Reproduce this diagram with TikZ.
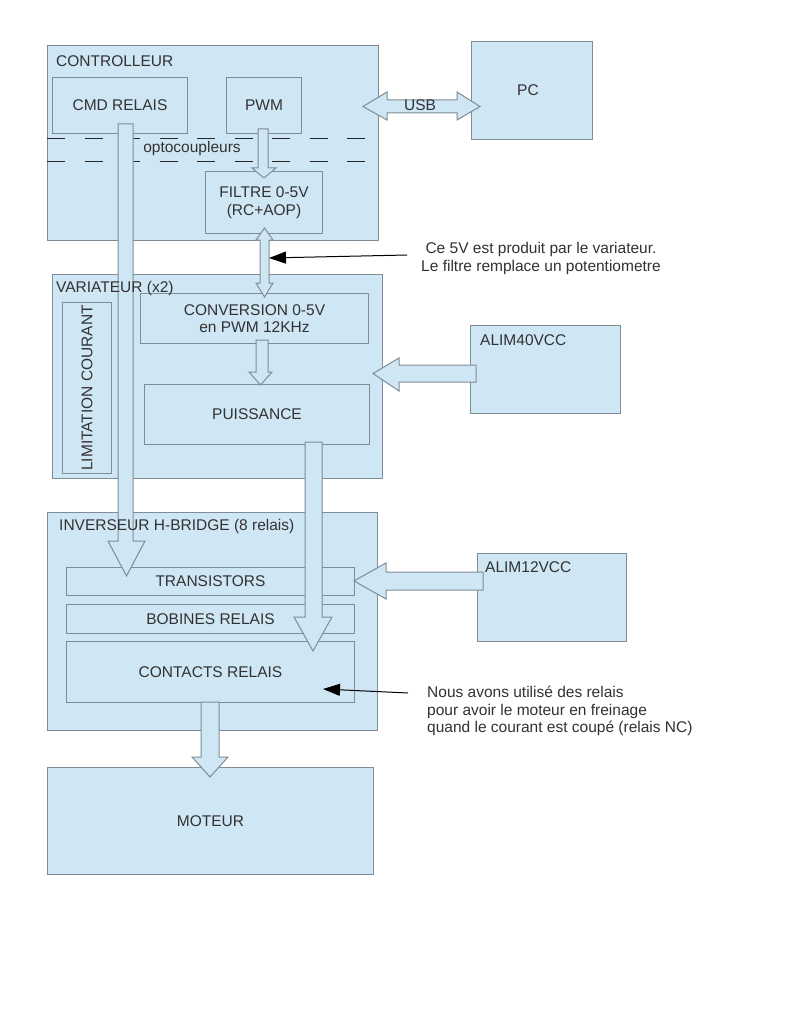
\documentclass[tikz,border=0pt]{standalone}
\usepackage{fontspec}
\setmainfont{Liberation Sans}
\usetikzlibrary{arrows.meta}
\definecolor{boxfill}{RGB}{207,230,244}
\definecolor{boxline}{RGB}{128,140,150}
\definecolor{txt}{RGB}{50,50,50}
\begin{document}
\begin{tikzpicture}[x=1pt,y=-1pt,
  every node/.style={text=txt, font=\fontsize{15.5}{17.5}\selectfont},
  box/.style={draw=boxline, fill=boxfill, line width=1pt, anchor=north west, inner sep=0pt, align=center},
  title/.style={anchor=west, inner sep=0pt},
  barrow/.style={draw=boxline, fill=boxfill, line width=1pt, line join=miter},
  dashline/.style={draw=black!85, line width=1pt, dash pattern=on 18pt off 19.5pt},
  note/.style={draw=black, line width=1pt, -{Triangle[length=17pt,width=12pt]}}
]
\useasboundingbox (0,0) rectangle (791,1024);
\fill[white] (0,0) rectangle (791,1024);

% containers
\node[box, minimum width=331pt, minimum height=195pt] (ctrl) at (47,45) {};
\node[box, minimum width=121pt, minimum height=98pt] (pc) at (471,41) {};
\node[box, minimum width=330pt, minimum height=204pt] (var) at (52,274) {};
\node[box, minimum width=150pt, minimum height=88pt] (alim40) at (470,325) {};
\node[box, minimum width=330pt, minimum height=218pt] (inv) at (47,512) {};
\node[box, minimum width=149pt, minimum height=88pt] (alim12) at (477,553) {};
\node[box, minimum width=326pt, minimum height=107pt] (moteur) at (47,767) {MOTEUR};

% inner boxes
\node[box, minimum width=135pt, minimum height=56pt] (cmd) at (52,77) {CMD RELAIS};
\node[box, minimum width=75pt, minimum height=56pt] (pwm) at (226,77) {PWM};
\node[box, minimum width=117pt, minimum height=62pt] (filtre) at (205,171) {FILTRE 0-5V\\(RC+AOP)};
\node[box, minimum width=49pt, minimum height=171pt] (lim) at (62,302) {};
\node[box, minimum width=228pt, minimum height=50pt] (conv) at (140,293) {CONVERSION 0-5V\\en PWM 12KHz};
\node[box, minimum width=225pt, minimum height=60pt] (puis) at (144,384) {PUISSANCE};
\node[box, minimum width=288pt, minimum height=28pt] (trans) at (66,567) {TRANSISTORS};
\node[box, minimum width=288pt, minimum height=29pt] (bob) at (66,604) {BOBINES RELAIS};
\node[box, minimum width=288pt, minimum height=61pt] (cont) at (66,641) {CONTACTS RELAIS};

% optocoupler dashed lines
\draw[dashline] (47,139) -- (365,139);
\draw[dashline] (47,162) -- (365,162);

% block arrows
% CMD RELAIS -> TRANSISTORS
\draw[barrow] (118,124) -- (118,541) -- (108,541) -- (126.5,576) -- (145,541) -- (133,541) -- (133,124) -- cycle;
% PWM -> FILTRE
\draw[barrow] (258,129) -- (258,168) -- (252,168) -- (264,178) -- (276,168) -- (268,168) -- (268,129) -- cycle;
% FILTRE <-> CONVERSION
\draw[barrow] (264.5,228) -- (273,240) -- (269,240) -- (269,283) -- (273,283) -- (264.5,297) -- (256,283) -- (260,283) -- (260,240) -- (256,240) -- cycle;
% CONVERSION -> PUISSANCE
\draw[barrow] (256,340) -- (256,372) -- (249,372) -- (260.5,385) -- (272,372) -- (268,372) -- (268,340) -- cycle;
% PUISSANCE -> CONTACTS
\draw[barrow] (305,442) -- (305,617) -- (294,617) -- (313,651) -- (332,617) -- (322,617) -- (322,442) -- cycle;
% ALIM40 -> VARIATEUR
\draw[barrow] (476,365) -- (399,365) -- (399,358) -- (373,373.5) -- (399,391) -- (399,382) -- (476,382) -- cycle;
% ALIM12 -> TRANSISTORS
\draw[barrow] (483,572) -- (386,572) -- (386,563) -- (354,581) -- (386,599) -- (386,590) -- (483,590) -- cycle;
% CONTACTS -> MOTEUR
\draw[barrow] (201,702) -- (201,757) -- (192,757) -- (210,777) -- (228,757) -- (219,757) -- (219,702) -- cycle;
% USB
\draw[barrow] (363,106.5) -- (387,92) -- (387,100) -- (457,100) -- (457,92) -- (480,106.5) -- (457,120) -- (457,113) -- (387,113) -- (387,120) -- cycle;

% labels
\node[title] (tctrl) at (56,61) {CONTROLLEUR};
\node[title] (tvar) at (56,288) {VARIATEUR (x2)};
\node[title] (tinv) at (59,526) {INVERSEUR H-BRIDGE (8 relais)};
\node[title] (ta40) at (480,340) {ALIM40VCC};
\node[title] (ta12) at (485,567) {ALIM12VCC};
\node (tpc) at (528,90) {PC};
\node (tusb) at (420,105) {USB};
\node (topto) at (192,148) {optocoupleurs};
\node[rotate=90] (tlim) at (lim.center) {LIMITATION COURANT};

% annotations
\node[align=center, inner sep=0pt] (n1) at (541,258.5) {Ce 5V est produit par le variateur.\\Le filtre remplace un potentiometre};
\coordinate (n1s) at (407,255);
\coordinate (n1t) at (269,258);
\draw[note] (n1s) -- (n1t);
\node[align=left, anchor=west, inner sep=0pt] (n2) at (427,711) {Nous avons utilisé des relais\\pour avoir le moteur en freinage\\quand le courant est coupé (relais NC)};
\coordinate (n2s) at (408,693);
\coordinate (n2t) at (323,689);
\draw[note] (n2s) -- (n2t);
\end{tikzpicture}
\end{document}
